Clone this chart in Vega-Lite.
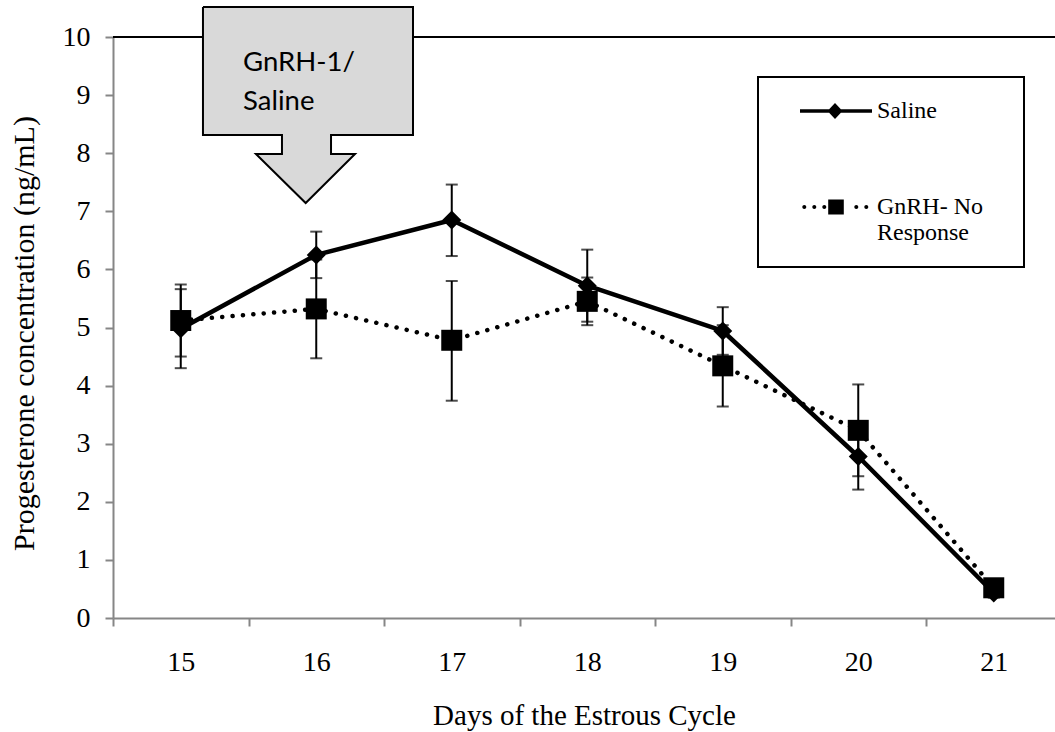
{
  "$schema": "https://vega.github.io/schema/vega-lite/v6.json",
  "width": 942,
  "height": 581,
  "autosize": "none",
  "padding": {"left": 113, "top": 37, "right": 0, "bottom": 114},
  "background": "white",
  "config": {
    "view": {"stroke": null},
    "axis": {
      "grid": false,
      "domainColor": "#868686",
      "domainWidth": 2,
      "tickColor": "#868686",
      "tickWidth": 2,
      "tickSize": 8,
      "labelFont": "Liberation Serif",
      "labelFontSize": 28,
      "labelColor": "black",
      "titleFont": "Liberation Serif",
      "titleFontSize": 29,
      "titleFontWeight": "normal",
      "titleColor": "black"
    },
    "legend": {"strokeWidth": 2}
  },
  "datasets": {
    "pts": [
      {"day": 15, "series": "Saline", "mean": 4.98, "lower": 4.30, "upper": 5.66},
      {"day": 16, "series": "Saline", "mean": 6.25, "lower": 5.85, "upper": 6.65},
      {"day": 17, "series": "Saline", "mean": 6.85, "lower": 6.23, "upper": 7.46},
      {"day": 18, "series": "Saline", "mean": 5.72, "lower": 5.10, "upper": 6.34},
      {"day": 19, "series": "Saline", "mean": 4.94, "lower": 4.53, "upper": 5.35},
      {"day": 20, "series": "Saline", "mean": 2.78, "lower": 2.21, "upper": 3.35},
      {"day": 21, "series": "Saline", "mean": 0.43, "lower": 0.35, "upper": 0.51},
      {"day": 15, "series": "GnRH- No Response", "mean": 5.12, "lower": 4.50, "upper": 5.74},
      {"day": 16, "series": "GnRH- No Response", "mean": 5.32, "lower": 4.47, "upper": 6.17},
      {"day": 17, "series": "GnRH- No Response", "mean": 4.78, "lower": 3.74, "upper": 5.80},
      {"day": 18, "series": "GnRH- No Response", "mean": 5.45, "lower": 5.04, "upper": 5.86},
      {"day": 19, "series": "GnRH- No Response", "mean": 4.34, "lower": 3.64, "upper": 5.04},
      {"day": 20, "series": "GnRH- No Response", "mean": 3.23, "lower": 2.44, "upper": 4.02},
      {"day": 21, "series": "GnRH- No Response", "mean": 0.52, "lower": 0.44, "upper": 0.60}
    ],
    "callout": [
      {"cx": 15.164, "cy": 10.516, "k": 0},
      {"cx": 16.714, "cy": 10.516, "k": 1},
      {"cx": 16.714, "cy": 8.313, "k": 2},
      {"cx": 16.109, "cy": 8.313, "k": 3},
      {"cx": 16.109, "cy": 7.986, "k": 4},
      {"cx": 16.286, "cy": 7.986, "k": 5},
      {"cx": 15.922, "cy": 7.143, "k": 6},
      {"cx": 15.555, "cy": 7.986, "k": 7},
      {"cx": 15.747, "cy": 7.986, "k": 8},
      {"cx": 15.747, "cy": 8.313, "k": 9},
      {"cx": 15.164, "cy": 8.313, "k": 10},
      {"cx": 15.164, "cy": 10.516, "k": 11}
    ]
  },
  "layer": [
    {
      "data": {"name": "pts"},
      "mark": {"type": "rule", "color": "black", "strokeWidth": 2},
      "encoding": {
        "x": {
          "field": "day",
          "type": "quantitative",
          "title": "Days of the Estrous Cycle",
          "scale": {"domain": [14.5, 21.452], "nice": false, "zero": false},
          "axis": {
            "values": [14.5, 15, 15.5, 16, 16.5, 17, 17.5, 18, 18.5, 19, 19.5, 20, 20.5, 21],
            "labelExpr": "datum.value % 1 == 0 ? format(datum.value, 'd') : ''",
            "tickOpacity": {"condition": {"test": "datum.value % 1 == 0", "value": 0}, "value": 1},
            "labelFont": "Liberation Serif",
            "labelFontSize": 28,
            "labelColor": "black",
            "labelPadding": 22,
            "labelOverlap": false,
            "labelFlush": false,
            "titleFont": "Liberation Serif",
            "titleFontSize": 29,
            "titleFontWeight": "normal",
            "titleColor": "black",
            "titleBaseline": "alphabetic",
            "titleY": 106
          }
        },
        "y": {
          "field": "lower",
          "type": "quantitative",
          "title": "Progesterone concentration (ng/mL)",
          "scale": {"domain": [0, 10], "nice": false},
          "axis": {
            "values": [0, 1, 2, 3, 4, 5, 6, 7, 8, 9, 10],
            "format": "d",
            "labelFont": "Liberation Serif",
            "labelFontSize": 28,
            "labelColor": "black",
            "labelPadding": 15,
            "titleFont": "Liberation Serif",
            "titleFontSize": 30,
            "titleFontWeight": "normal",
            "titleColor": "black",
            "titleX": -80,
            "titleY": 296,
            "titleBaseline": "alphabetic"
          }
        },
        "y2": {"field": "upper"}
      }
    },
    {
      "data": {"name": "pts"},
      "mark": {"type": "tick", "orient": "horizontal", "size": 12, "thickness": 2, "color": "black"},
      "encoding": {
        "x": {"field": "day", "type": "quantitative"},
        "y": {"field": "lower", "type": "quantitative"}
      }
    },
    {
      "data": {"name": "pts"},
      "mark": {"type": "tick", "orient": "horizontal", "size": 12, "thickness": 2, "color": "black"},
      "encoding": {
        "x": {"field": "day", "type": "quantitative"},
        "y": {"field": "upper", "type": "quantitative"}
      }
    },
    {
      "data": {"name": "pts"},
      "mark": {"type": "rule", "color": "black", "strokeWidth": 2},
      "encoding": {"y": {"datum": 10}}
    },
    {
      "data": {"name": "callout"},
      "mark": {"type": "line", "fill": "#d9d9d9", "stroke": "black", "strokeWidth": 2, "strokeJoin": "miter"},
      "encoding": {
        "x": {"field": "cx", "type": "quantitative"},
        "y": {"field": "cy", "type": "quantitative"},
        "order": {"field": "k", "type": "quantitative"}
      }
    },
    {
      "data": {"name": "callout"},
      "transform": [{"filter": "datum.k == 0"}],
      "mark": {"type": "text", "font": "Lato", "fontSize": 27.5, "align": "left", "baseline": "alphabetic", "lineHeight": 39, "color": "black"},
      "encoding": {
        "x": {"datum": 15.46},
        "y": {"datum": 9.415},
        "text": {"value": ["GnRH-1/", "Saline"]}
      }
    },
    {
      "data": {"name": "pts"},
      "transform": [{"filter": "datum.series == 'Saline'"}],
      "mark": {"type": "line", "color": "black", "strokeWidth": 4.5, "strokeJoin": "round"},
      "encoding": {
        "x": {"field": "day", "type": "quantitative"},
        "y": {"field": "mean", "type": "quantitative"}
      }
    },
    {
      "data": {"name": "pts"},
      "transform": [{"filter": "datum.series == 'GnRH- No Response'"}],
      "mark": {"type": "line", "color": "black", "strokeWidth": 4.5, "strokeDash": [0.1, 10.3], "strokeCap": "round"},
      "encoding": {
        "x": {"field": "day", "type": "quantitative"},
        "y": {"field": "mean", "type": "quantitative"}
      }
    },
    {
      "data": {"name": "pts"},
      "transform": [{"filter": "datum.series == 'Saline'"}],
      "mark": {"type": "point", "shape": "diamond", "filled": true, "color": "black", "size": 361, "opacity": 1},
      "encoding": {
        "x": {"field": "day", "type": "quantitative"},
        "y": {"field": "mean", "type": "quantitative"}
      }
    },
    {
      "data": {"name": "pts"},
      "transform": [{"filter": "datum.series == 'GnRH- No Response'"}],
      "mark": {"type": "point", "shape": "square", "filled": true, "color": "black", "size": 441, "opacity": 1},
      "encoding": {
        "x": {"field": "day", "type": "quantitative"},
        "y": {"field": "mean", "type": "quantitative"}
      }
    },
    {
      "data": {"name": "pts"},
      "transform": [{"filter": "datum.day == 15"}],
      "mark": {"type": "point", "filled": true, "color": "black", "size": 400, "opacity": 1, "clip": true},
      "encoding": {
        "x": {"datum": 30},
        "y": {"datum": 5},
        "shape": {
          "field": "series",
          "type": "nominal",
          "scale": {
            "domain": ["Saline", "GnRH- No Response"],
            "range": [
              "M0.8,-0.18L8,-0.18L8,0.18L0.8,0.18Z M3.55,0L4.3,-0.8L5.05,0L4.3,0.8Z M21,0L21,0.01",
              "M1.03,0A0.2,0.2 0 1,0 1.43,0A0.2,0.2 0 1,0 1.03,0Z M2.03,0A0.2,0.2 0 1,0 2.43,0A0.2,0.2 0 1,0 2.03,0Z M3.03,0A0.2,0.2 0 1,0 3.43,0A0.2,0.2 0 1,0 3.03,0Z M3.62,-0.75L5.18,-0.75L5.18,0.75L3.62,0.75Z M6.23,0A0.2,0.2 0 1,0 6.63,0A0.2,0.2 0 1,0 6.23,0Z M7.23,0A0.2,0.2 0 1,0 7.63,0A0.2,0.2 0 1,0 7.23,0Z M21,0L21,0.01"
            ]
          },
          "legend": {
            "title": null,
            "orient": "none",
            "legendX": 645,
            "legendY": 40,
            "padding": 22,
            "strokeColor": "black",
            "fillColor": "white",
            "rowPadding": 72,
            "symbolSize": 400,
            "symbolStrokeWidth": 0,
            "symbolFillColor": "black",
            "symbolOpacity": 1,
            "symbolOffset": 0,
            "labelOffset": 73,
            "labelFont": "Liberation Serif",
            "labelFontSize": 24,
            "labelColor": "black",
            "labelLimit": 400,
            "labelBaseline": "middle",
            "labelExpr": "datum.value == 'GnRH- No Response' ? ['GnRH- No', 'Response'] : datum.label"
          }
        }
      }
    }
  ]
}
